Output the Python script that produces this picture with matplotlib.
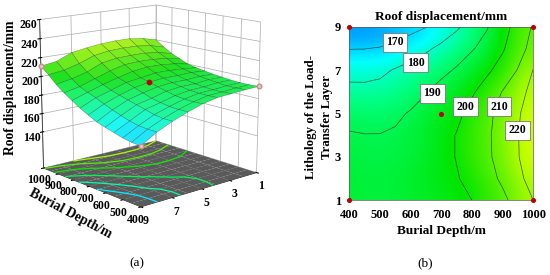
import numpy as np
import matplotlib
matplotlib.use("Agg")
import matplotlib.pyplot as plt
from matplotlib.colors import LinearSegmentedColormap, Normalize

plt.rcParams['font.family'] = ['Liberation Serif', 'DejaVu Serif']

depth = [400, 450, 500, 550, 600, 650, 700, 750, 800, 850, 900, 950, 1000]
lith = [1, 2, 3, 4, 5, 6, 7, 8, 9]
disp = [
    [193.0, 192.5, 192.5, 193.0, 194.0, 195.0, 196.5, 198.0, 200.0, 204.0, 208.0, 213.5, 220.0],
    [192.5, 192.0, 192.0, 193.0, 194.0, 195.5, 197.5, 199.3, 203.0, 207.0, 211.5, 217.5, 224.0],
    [191.5, 190.8, 190.8, 191.5, 192.5, 194.5, 197.0, 200.4, 204.5, 208.5, 213.5, 219.5, 226.0],
    [190.6, 190.2, 190.2, 191.0, 192.5, 194.5, 197.0, 200.4, 204.7, 208.8, 213.5, 219.7, 226.0],
    [187.5, 187.0, 187.3, 188.5, 190.7, 193.0, 195.7, 198.0, 202.8, 208.0, 213.0, 219.0, 225.0],
    [182.6, 182.5, 183.0, 184.5, 186.5, 189.6, 192.8, 196.0, 198.9, 204.0, 210.4, 216.5, 223.0],
    [176.8, 176.8, 178.0, 180.7, 183.0, 185.5, 188.0, 190.8, 194.5, 198.5, 203.5, 210.5, 220.3],
    [169.7, 169.8, 170.5, 172.5, 175.3, 178.5, 182.0, 186.0, 189.3, 193.0, 199.0, 206.0, 213.5],
    [160.0, 160.5, 162.0, 164.5, 167.0, 169.7, 174.0, 178.5, 184.0, 189.5, 196.0, 204.0, 211.0],
]
levels = [170, 180, 190, 200, 210, 220]
depth_ticks = [400, 500, 600, 700, 800, 900, 1000]
lith_ticks = [1, 3, 5, 7, 9]
z_ticks = [140, 160, 180, 200, 220, 240, 260]
label_x = [549, 617, 670, 778, 888, 949]
label_y = [8.28, 7.34, 5.93, 5.32, 5.32, 4.22]
design_x = [400, 400, 1000, 1000, 700]
design_y = [1, 9, 1, 9, 5]

X, Y = np.meshgrid(depth, lith)
Z = np.array(disp)
cmap = LinearSegmentedColormap.from_list(
    "de", [(0, (0, 0.45, 1)), (0.24, (0, 1, 1)), (0.42, (0, 1, 0.5)), (0.62, (0, 0.9, 0)), (1, (0.8, 1, 0))])
norm = Normalize(155, 226)
# the surface in (a) is a bit paler than the flat map in (b)
surf_colors = cmap(norm(Z))
surf_colors[..., :3] = surf_colors[..., :3] * 0.85 + 0.15 * 0.8

fig = plt.figure(figsize=(5.5, 2.75), dpi=100)

# (a) response surface
ax = fig.add_axes([-0.045, 0.165, 0.62, 0.94], projection='3d', computed_zorder=False)
ax.view_init(elev=13.5, azim=139)
ax.set_proj_type('persp', focal_length=0.7)
ax.set_box_aspect((1, 1, 1.0), zoom=1.0)
ax.set_xlim(400, 1000)
ax.set_ylim(1, 9)
ax.set_zlim(100, 260)
ax.set_xticks(depth_ticks)
ax.set_yticks(lith_ticks)
ax.set_zticks(z_ticks)
for a in (ax.xaxis, ax.yaxis, ax.zaxis):
    a.set_pane_color((1, 1, 1, 1))
    a._axinfo['grid'].update(color='#aaaaaa', linewidth=0.5)
    a.line.set_color('#333333')
    a.line.set_linewidth(0.6)
ax.zaxis.set_ticks_position('upper')
ax.tick_params(axis='z', labelsize=8.5, pad=-3)
ax.tick_params(axis='x', labelsize=8.5, pad=-4.5)
ax.tick_params(axis='y', labelsize=8.5, pad=-4)
for t in ax.get_xticklabels() + ax.get_yticklabels() + ax.get_zticklabels():
    t.set_fontweight('bold')

ax.plot_surface(X, Y, np.full_like(Z, 100.0), color='#5a5a5a', shade=False, linewidth=0, zorder=1)
ax.contour(X, Y, Z, levels=levels, zdir='z', offset=100, cmap=cmap, norm=norm, linewidths=0.9, zorder=2)
ax.plot_surface(X, Y, Z, facecolors=surf_colors, edgecolor=(0, 0, 0, 0.45), linewidth=0.3,
                shade=False, rstride=1, cstride=1, zorder=3)
ax.scatter([1000, 400, 400], [9, 9, 1], [Z[8, 12], Z[8, 0], Z[0, 0]], color='#f4c0c0', edgecolor='#c09090',
           s=11, depthshade=False, zorder=5)
ax.scatter([700], [5], [Z[4, 6]], color='#c00000', s=10, depthshade=False, zorder=5)

fig.text(11 / 550, 1 - 88 / 275, "Roof displacement/mm", rotation=90, ha='center', va='center',
         fontsize=9.8, fontweight='bold')
fig.text(70 / 550, 1 - 214 / 275, "Burial Depth/m", rotation=-28, ha='center', va='center',
         fontsize=9.8, fontweight='bold')
fig.text(137 / 550, 1 - 263 / 275, "(a)", ha='center', va='center', fontsize=9.5)

# (b) contour plot
ax2 = fig.add_axes([349.3 / 550, 1 - 200.3 / 275, 184 / 550, 173.6 / 275])
ax2.imshow(Z, origin='lower', extent=(400, 1000, 1, 9), aspect='auto', cmap=cmap, norm=norm,
           interpolation='bicubic')
ax2.contour(X, Y, Z, levels=levels, colors='#2a2a2a', linewidths=0.5, alpha=0.8)
for lv, lx, ly in zip(levels, label_x, label_y):
    ax2.text(lx, ly, str(lv), ha='center', va='center', fontsize=8.5, fontweight='bold',
             bbox=dict(fc='white', ec='#777777', lw=0.6, boxstyle='square,pad=0.3'))
ax2.scatter(design_x, design_y, color='#c00000', s=7, clip_on=False, zorder=5)
ax2.set_xticks(depth_ticks)
ax2.set_yticks(lith_ticks)
ax2.tick_params(axis='x', labelsize=9, length=0, pad=6)
ax2.tick_params(axis='y', labelsize=9, length=0, pad=6)
for t in ax2.get_xticklabels() + ax2.get_yticklabels():
    t.set_fontweight('bold')
for s in ax2.spines.values():
    s.set_linewidth(0.5)
    s.set_color('#555555')
ax2.set_title("Roof displacement/mm", fontsize=9.6, fontweight='bold', pad=5)
ax2.set_xlabel("Burial Depth/m", fontsize=9.5, fontweight='bold', labelpad=3)
ax2.set_ylabel("Lithology of the Load-\nTransfer Layer", fontsize=9.3, fontweight='bold', labelpad=1,
               linespacing=1.5, y=0.48)
fig.text(425 / 550, 1 - 263 / 275, "(b)", ha='center', va='center', fontsize=9.5)

fig.savefig("out.png", dpi=100)
